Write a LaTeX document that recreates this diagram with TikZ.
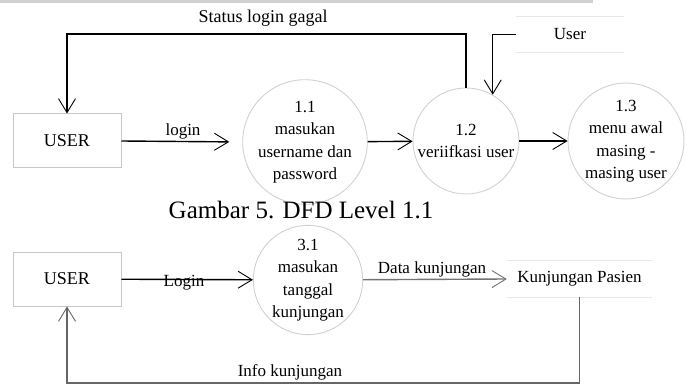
\documentclass[tikz,border=0pt]{standalone}
\usepackage{fontspec}
\setmainfont{Liberation Serif}
\usetikzlibrary{arrows.meta}
\tikzset{
	flow/.style={line width=1.4pt, -{Straight Barb[length=14pt,width=17pt,line width=0.9pt]}},
	entity/.style={draw=black!22, line width=1pt, minimum width=108pt, minimum height=54pt, font=\fontsize{18}{22}\selectfont},
	process/.style={circle, draw=black!18, line width=0.9pt, minimum size=106pt, inner sep=0pt, align=center, font=\fontsize{17}{22.5}\selectfont},
	store/.style={minimum width=#1, minimum height=35pt, inner sep=0pt, font=\fontsize{17}{20}\selectfont},
	storeline/.style={draw=black!9, line width=1.2pt},
	lbl/.style={font=\fontsize{17}{20}\selectfont, inner sep=0pt}
}

\begin{document}
\begin{tikzpicture}[x=1pt, y=-1pt]
			\useasboundingbox (0,0) rectangle (686,385);
			%%%%% LEVEL 1.1 %%%%%
			
			\draw[line width=3pt, color=black!18] (0,2) -- (593,2);
			
			\node[entity] (user1) at (67,141) {USER};
			\node[process] (p11) at (305,142) {1.1\\masukan\\username dan\\password};
			\node[process] (p12) at (466,141) {1.2\\veriifkasi user};
			\node[process] (p13) at (626,141) {1.3\\menu awal\\masing -\\masing user};
			
			\node[store=108pt] (ustore) at (570,34.5) {User};
			\draw[storeline] (ustore.north west) -- (ustore.north east);
			\draw[storeline] (ustore.south west) -- (ustore.south east);
			
			\draw[flow, shorten >=13pt] (user1.east) -- (p11.west);
			\node[lbl] (llogin) at (183,131) {login};
			\draw[flow] (p11) -- (p12);
			\draw[flow] (p12) -- (p13);
			\draw[flow] (ustore.west) -| (p12.60);
			
			\coordinate (gagal) at (0,34);
			\draw[flow] (p12.north) |- (user1.north |- gagal) -- (user1.north);
			\node[lbl, font=\fontsize{18}{20}\selectfont] (lgagal) at (263,18) {Status login gagal};
			
			\node[font=\fontsize{25}{30}\selectfont] (caption) at (301,210) {Gambar 5. DFD Level 1.1};
			
			%%%%% LEVEL 3.1 %%%%%
			
			\node[entity] (user2) at (67,279) {USER};
			\node[process] (p31) at (308,280) {3.1\\masukan\\tanggal\\kunjungan};
			
			\node[store=145pt, minimum height=36pt] (kstore) at (579.5,279) {Kunjungan Pasien};
			\draw[storeline] (kstore.north west) -- (kstore.north east);
			\draw[storeline] (kstore.south west) -- (kstore.south east);
			
			\draw[flow] (user2) -- (p31);
			\node[lbl] (llogin2) at (184,283) {Login};
			\draw[flow, color=black!55] (p31) -- (kstore.west);
			\node[lbl, anchor=south] (ldata) at (432,277) {Data kunjungan};
			
			\coordinate (info) at (0,383);
			\draw[flow, color=black!60] (kstore.south) |- (user2.south |- info) -- (user2.south);
			\node[lbl] (linfo) at (290,372) {Info kunjungan};
			
			%%%%% END %%%%%
\end{tikzpicture}
\end{document}
